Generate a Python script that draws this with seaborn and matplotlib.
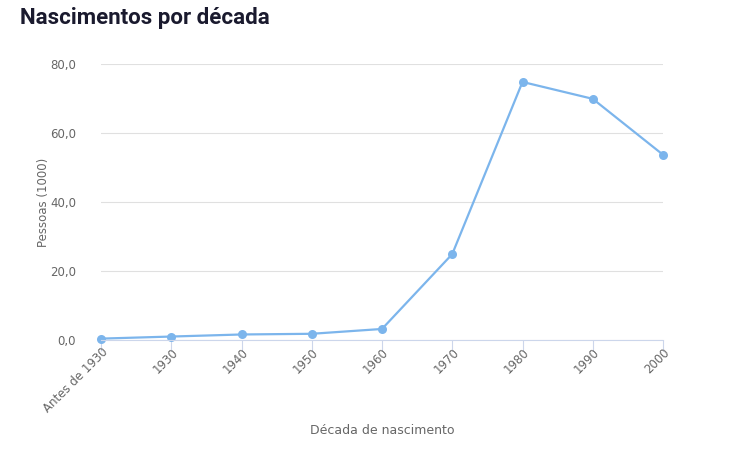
import matplotlib
matplotlib.use("Agg")
import matplotlib.pyplot as plt
import seaborn as sns
import pandas as pd

categories = ["Antes de 1930", "1930", "1940", "1950", "1960", "1970", "1980", "1990", "2000"]
values = [0.4, 1.0, 1.6, 1.8, 3.2, 24.9, 74.8, 69.9, 53.7]
yticks = [0, 20, 40, 60, 80]
ytick_labels = ["0,0", "20,0", "40,0", "60,0", "80,0"]

df = pd.DataFrame({"cat": categories, "val": values, "x": range(len(categories))})

fig = plt.figure(figsize=(7.38, 4.53), dpi=100)
ax = fig.add_axes([101/738, 1-340/453, (663-101)/738, (340-64)/453])
color = "#7cb5ec"
sns.lineplot(data=df, x="x", y="val", ax=ax, color=color, linewidth=1.6, marker="o",
             markersize=6.5, markeredgewidth=0, clip_on=False)
ax.set_xlim(0, len(categories)-1)
ax.set_ylim(0, 80)
ax.set_yticks(yticks)
ax.set_yticklabels(ytick_labels, fontsize=8.5, color="#666666")
ax.set_xticks(range(len(categories)))
ax.set_xticklabels(categories, rotation=45, ha="right", rotation_mode="anchor", fontsize=8.5, color="#666666")
ax.grid(axis="y", color="#e0e0e0", linewidth=0.8)
ax.set_axisbelow(True)
for s in ["top", "right", "left"]:
    ax.spines[s].set_visible(False)
ax.spines["bottom"].set_color("#ccd6eb")
ax.tick_params(axis="y", length=0, pad=18)
ax.tick_params(axis="x", length=8, color="#ccd6eb", pad=-4)
ax.set_ylabel("")
ax.set_xlabel("")
fig.text(44/738, 1-202/453, "Pessoas (1000)", fontsize=8.5, color="#666666",
         rotation=90, va="center", ha="center")
fig.text(382/738, 1-430/453, "Década de nascimento", fontsize=9, color="#666666",
         va="center", ha="center")
fig.text(20/738, 1-18/453, "Nascimentos por década", fontsize=16, fontweight="bold",
         color="#1a1a2e", family="Roboto", va="center", ha="left")
fig.savefig("out.png", dpi=100, facecolor="white")
